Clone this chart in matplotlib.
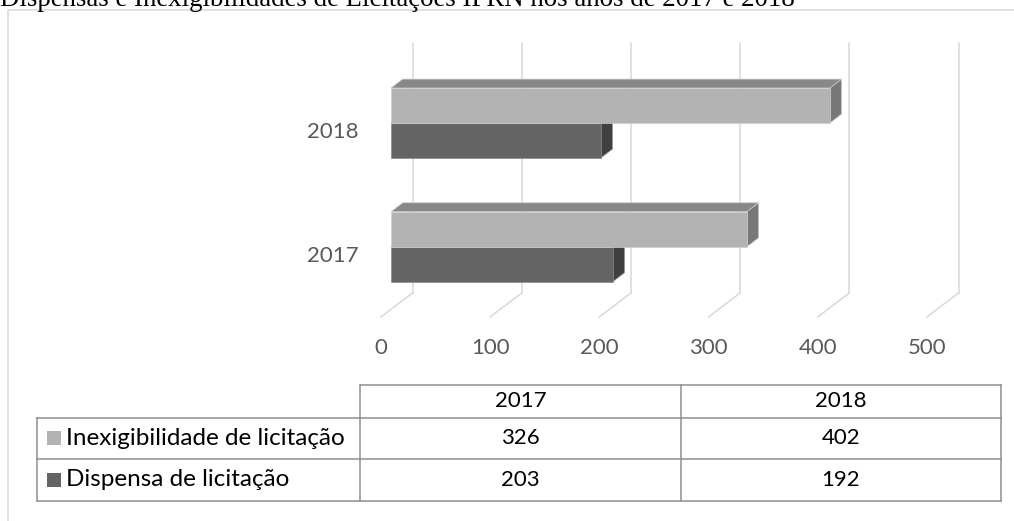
import matplotlib.pyplot as plt
from matplotlib.patches import Polygon, Rectangle

# data
years = ["2017", "2018"]
series = ["Inexigibilidade de licitação", "Dispensa de licitação"]
inexigibilidade = [326, 402]
dispensa = [203, 192]
ticks = [0, 100, 200, 300, 400, 500]
title = "Dispensas e Inexigibilidades de Licitações IFRN nos anos de 2017 e 2018"

light = {"front": "#b3b3b3", "top": "#888888", "side": "#787878", "edge": "#cfcfcf"}
dark = {"front": "#646464", "top": "#555555", "side": "#404040", "edge": "#8a8a8a"}
grid_c = "#d9d9d9"
label_c = "#595959"
FONT = "Lato"
NUM_FS = 16
TXT_FS = 17.5

W, H = 1014, 521
fig = plt.figure(figsize=(W / 100, H / 100), dpi=100)

# chart axes: x in value units, y in category units
px_per_val = 1.092
px_per_cat = 123.7
x0_px, y0_px = 391, 246.7
ax = fig.add_axes([0, 0, 1, 1])
ax.set_xlim(-x0_px / px_per_val, (W - x0_px) / px_per_val)
ax.set_ylim((y0_px - H) / px_per_cat, y0_px / px_per_cat)
ax.axis("off")

# depth of the bars and of the walls (value / category units)
bar_dx, bar_dy = 10.7, 0.072
front_dx, front_dy = -9.2, -0.062
back_dx, back_dy = 19.7, 0.133
floor_front_y, floor_back_y, wall_top = -0.568, -0.374, 1.643
bar_h = 0.283

# back wall gridlines and floor lines
for t in ticks:
    ax.plot([t + back_dx, t + back_dx], [floor_back_y, wall_top], color=grid_c, lw=1.1, zorder=1)
    ax.plot([t + front_dx, t + back_dx], [floor_front_y, floor_back_y], color=grid_c, lw=1.1, zorder=1)
    ax.text(t + front_dx, -0.819, str(t), ha="center", va="center",
            fontsize=NUM_FS, color=label_c, family=FONT)


def bar3d(v, ya, yb, c):
    ax.add_patch(Polygon([(0, yb), (v, yb), (v + bar_dx, yb + bar_dy), (bar_dx, yb + bar_dy)],
                         closed=True, fc=c["top"], ec=c["edge"], lw=0.5, zorder=2))
    ax.add_patch(Polygon([(v, ya), (v, yb), (v + bar_dx, yb + bar_dy), (v + bar_dx, ya + bar_dy)],
                         closed=True, fc=c["side"], ec=c["edge"], lw=0.5, zorder=2))
    ax.add_patch(Rectangle((0, ya), v, yb - ya, fc=c["front"], ec=c["edge"], lw=0.5, zorder=3))


for i, yr in enumerate(years):
    bar3d(dispensa[i], i - bar_h, i, dark)
    bar3d(inexigibilidade[i], i, i + bar_h, light)
    ax.text(-29.3, i - 0.075, yr, ha="right", va="center", fontsize=NUM_FS, color=label_c, family=FONT)

# overlay in pixel coords for border, title and data table
ov = fig.add_axes([0, 0, 1, 1])
ov.set_xlim(0, W)
ov.set_ylim(H, 0)
ov.axis("off")
ov.patch.set_alpha(0)

ov.plot([7.5, 7.5, W], [H, 9.5, 9.5], color=grid_c, lw=1.1)
ov.text(0, 6.5, title, ha="left", va="baseline", fontsize=19.4, family="Liberation Serif", color="black")

tbl_c = "#8f8f8f"
xl, xh, xm, xr = 37.3, 360, 680.7, 1000.7
rows_y = [385, 417.7, 459, 500.7]
ov.plot([xh, xr], [rows_y[0], rows_y[0]], color=tbl_c, lw=1.1)
for yy in rows_y[1:]:
    ov.plot([xl, xr], [yy, yy], color=tbl_c, lw=1.1)
ov.plot([xl, xl], [rows_y[1], rows_y[3]], color=tbl_c, lw=1.1)
for xx in (xh, xm, xr):
    ov.plot([xx, xx], [rows_y[0], rows_y[3]], color=tbl_c, lw=1.1)

col_cx = [(xh + xm) / 2, (xm + xr) / 2]
for j, yr in enumerate(years):
    ov.text(col_cx[j], (rows_y[0] + rows_y[1]) / 2, yr, ha="center", va="center",
            fontsize=NUM_FS, family=FONT, color="black")

for r, (name, vals, c) in enumerate([(series[0], inexigibilidade, light), (series[1], dispensa, dark)]):
    yc = (rows_y[r + 1] + rows_y[r + 2]) / 2
    ov.add_patch(Rectangle((47, yc - 7), 14, 14, fc=c["front"], ec="none"))
    ov.text(66, yc, name, ha="left", va="center", fontsize=TXT_FS, family=FONT, color="black")
    for j in range(len(years)):
        ov.text(col_cx[j], yc, str(vals[j]), ha="center", va="center",
                fontsize=NUM_FS, family=FONT, color="black")

fig.savefig("out.png", dpi=100)
